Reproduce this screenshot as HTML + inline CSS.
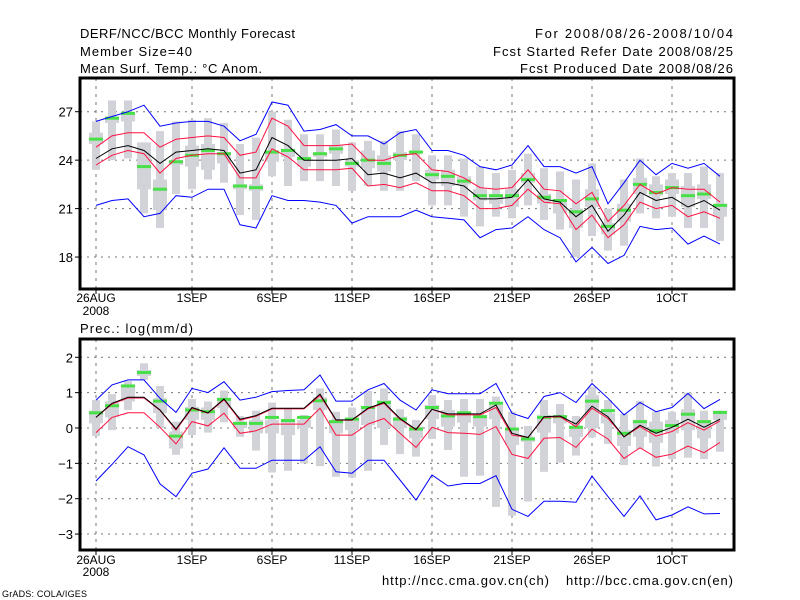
<!DOCTYPE html>
<html><head><meta charset="utf-8"><style>
html,body{margin:0;padding:0;background:#fff;}
svg{display:block;font-family:"Liberation Sans",sans-serif;}
</style></head><body>
<svg id="chart" width="800" height="600" viewBox="0 0 800 600" xmlns="http://www.w3.org/2000/svg">
<rect x="0" y="0" width="800" height="600" fill="#fff"/>
<g font-size="13" fill="#000">
<text x="80" y="38" textLength="215">DERF/NCC/BCC Monthly Forecast</text>
<text x="80" y="56" textLength="112">Member Size=40</text>
<text x="80" y="73" textLength="182">Mean Surf. Temp.: °C Anom.</text>
<text x="733" y="38" text-anchor="end" textLength="198">For 2008/08/26-2008/10/04</text>
<text x="733" y="56" text-anchor="end" textLength="240">Fcst Started Refer Date 2008/08/25</text>
<text x="733" y="73" text-anchor="end" textLength="213">Fcst Produced Date 2008/08/26</text>
<text x="80" y="333" textLength="113">Prec.: log(mm/d)</text>
<text x="382" y="585" textLength="167">http://ncc.cma.gov.cn(ch)</text>
<text x="566" y="585" textLength="167">http://bcc.cma.gov.cn(en)</text>
<text x="2" y="597" font-size="9" textLength="85">GrADS: COLA/IGES</text>
</g>
<g id="plots"></g>
</svg>
<script>
// ---- data ----
const tickDays = [0,6,11,16,21,26,31,36];
const tickLabels = ["26AUG","1SEP","6SEP","11SEP","16SEP","21SEP","26SEP","1OCT"];
const tempTicks = [18,21,24,27];
const precTicks = [-3,-2,-1,0,1,2];

const tBlueHi = [26.4,26.7,27.0,27.4,26.1,26.3,26.4,26.4,26.1,25.2,25.6,27.6,27.4,25.8,25.9,26.2,25.5,25.5,25.0,25.7,25.9,24.6,24.6,24.3,23.6,23.4,23.7,24.9,23.6,23.6,23.2,23.6,21.3,22.6,24.0,23.1,23.8,23.5,23.8,23.0];
const tRedHi = [24.8,25.5,25.7,25.7,24.8,25.3,25.4,25.5,25.4,24.3,24.5,26.6,26.1,24.9,24.9,24.9,25.0,24.0,24.0,24.3,24.4,23.4,23.3,22.9,22.3,22.2,22.3,23.4,22.2,22.1,21.3,22.0,20.2,21.2,22.5,21.9,22.3,22.2,22.2,21.4];
const tMean = [24.1,24.7,24.9,24.6,23.8,24.5,24.6,24.7,24.6,23.2,23.4,25.4,24.9,24.0,24.0,24.0,24.1,23.1,23.2,22.9,23.2,22.6,22.6,22.4,21.6,21.6,21.7,22.8,21.6,21.4,20.5,21.2,19.6,20.6,22.0,21.5,21.7,21.1,21.5,20.9];
const tRedLo = [23.7,24.3,24.6,24.4,23.2,24.1,24.3,24.4,24.4,22.9,22.9,24.7,24.2,23.4,23.4,23.4,23.5,22.4,22.5,22.3,22.6,22.1,22.1,21.8,21.0,21.0,21.2,22.2,21.4,21.3,19.7,20.6,19.2,20.0,21.4,21.0,21.2,20.5,20.8,20.4];
const tBlueLo = [21.2,21.5,21.6,20.5,20.7,21.8,21.7,22.2,22.2,20.0,19.8,21.8,21.5,21.5,21.4,21.2,20.1,20.5,20.5,20.5,20.9,20.5,20.4,20.3,19.2,19.7,19.8,20.5,19.7,19.2,17.7,18.6,17.6,18.1,19.9,19.7,19.8,18.8,19.3,18.8];
const tGreen = [25.3,26.6,26.9,23.6,22.2,23.9,24.3,24.6,24.4,22.4,22.3,24.5,24.6,24.1,24.4,24.7,23.8,24.0,23.8,24.3,24.5,23.1,23.0,22.7,21.8,21.8,21.8,22.8,21.7,21.5,20.8,21.6,19.9,20.9,22.5,22.0,22.3,21.8,21.9,21.2];
const tBoxMax = [26.4,27.7,27.7,25.1,25.8,26.4,26.5,26.6,26.3,25.0,25.4,27.0,26.5,25.6,25.6,25.9,25.1,25.2,25.2,25.8,25.6,24.3,24.3,24.1,23.6,23.2,23.4,24.4,23.5,23.3,22.8,23.8,21.0,22.8,24.1,23.0,23.2,23.2,23.6,23.2];
const tBoxMin = [23.4,24.0,24.1,20.7,19.8,21.9,22.2,22.8,22.6,20.6,20.3,23.0,22.4,22.7,22.7,22.4,22.1,22.4,22.1,22.1,22.7,21.2,21.2,20.5,19.9,20.5,20.4,21.2,20.3,19.7,18.0,19.3,18.4,18.7,20.7,20.4,20.5,19.8,19.8,19.0];
const tBoxQ3 = [25.7,26.7,26.9,25.1,22.8,24.0,24.9,25.0,24.5,22.5,22.5,24.6,24.7,24.2,24.4,24.9,24.0,24.6,24.3,24.5,24.6,23.4,23.4,23.0,22.2,21.9,22.2,23.2,21.9,21.5,21.0,22.2,20.1,21.3,22.9,22.5,22.8,22.4,22.5,21.3];
const tBoxQ1 = [25.0,26.3,26.4,22.2,20.9,23.7,23.6,23.4,23.8,22.2,22.1,23.9,24.2,23.6,24.2,24.4,23.6,23.5,23.3,24.0,24.4,22.8,22.4,22.5,21.5,21.3,21.1,22.6,21.3,20.7,19.8,21.1,19.4,20.2,21.9,21.8,21.9,21.1,21.6,20.5];

const pBlueHi = [0.79,1.22,1.36,1.36,0.84,0.44,1.12,1.0,1.31,0.79,0.87,1.03,1.06,1.08,1.5,0.76,0.76,1.08,1.26,0.79,0.51,1.08,0.97,0.97,0.97,1.26,0.42,0.27,0.89,1.0,0.72,1.26,0.84,0.37,0.72,0.46,0.58,0.98,0.55,0.81];
const pRedHi = [0.3,0.68,0.85,0.85,0.5,-0.06,0.56,0.42,0.8,0.22,0.33,0.54,0.54,0.54,0.92,0.22,0.22,0.54,0.7,0.25,-0.06,0.53,0.37,0.37,0.37,0.58,-0.2,-0.27,0.3,0.32,0.04,0.56,0.27,-0.25,0.04,-0.23,-0.1,0.15,-0.06,0.2];
const pMean = [0.3,0.7,0.87,0.87,0.51,-0.03,0.58,0.43,0.82,0.25,0.35,0.56,0.56,0.56,0.96,0.23,0.23,0.56,0.72,0.27,-0.04,0.53,0.4,0.4,0.4,0.65,-0.15,-0.27,0.32,0.34,0.11,0.62,0.32,-0.25,0.08,-0.15,0.02,0.25,0.02,0.25];
const pRedLo = [-0.13,0.3,0.43,0.43,0.02,-0.45,0.18,0.06,0.42,-0.15,-0.08,0.11,0.11,0.11,0.56,-0.2,-0.2,0.11,0.27,-0.15,-0.55,0.02,-0.13,-0.15,-0.18,0.04,-0.75,-0.86,-0.29,-0.27,-0.55,-0.03,-0.31,-0.86,-0.56,-0.83,-0.74,-0.51,-0.7,-0.41];
const pBlueLo = [-1.5,-1.03,-0.53,-0.76,-1.58,-1.94,-1.28,-1.16,-0.56,-1.14,-1.14,-0.91,-0.91,-0.91,-0.53,-1.24,-1.28,-0.91,-0.91,-1.47,-2.04,-1.33,-1.64,-1.57,-1.57,-1.35,-2.3,-2.5,-2.07,-2.07,-2.1,-1.36,-1.94,-2.5,-1.92,-2.6,-2.46,-2.23,-2.43,-2.42];
const pGreen = [0.43,0.63,1.19,1.57,0.76,-0.23,0.51,0.46,0.81,0.13,0.13,0.3,0.21,0.3,0.77,0.18,0.25,0.58,0.72,0.25,-0.03,0.58,0.34,0.43,0.32,0.7,-0.03,-0.31,0.3,0.32,0.02,0.76,0.49,-0.15,0.18,-0.08,0.07,0.39,0.18,0.44];
const pBoxMax = [0.79,0.96,1.33,1.83,1.19,0.18,0.82,0.75,1.06,0.34,0.49,0.72,0.56,0.37,1.12,0.46,0.58,1.05,1.12,0.53,0.23,0.93,0.79,0.82,0.82,0.89,0.46,0.06,0.79,0.68,0.34,1.17,0.79,0.4,0.77,0.46,0.46,1.0,0.49,0.49];
const pBoxMin = [-0.23,-0.06,0.51,1.36,0,-0.76,-0.2,-0.13,0.16,-0.25,-0.64,-1.26,-1.21,-1.0,-1.08,-1.38,-1.4,-1.21,-0.48,-0.74,-0.81,-0.31,-0.62,-1.38,-1.35,-2.23,-2.48,-2.08,-1.24,-0.98,-0.78,-0.27,-0.45,-1.05,-0.59,-1.09,-0.88,-0.84,-0.88,-0.67];
const pBoxQ3 = [0.49,0.75,1.22,1.64,0.84,-0.1,0.6,0.58,0.84,0.18,0.23,0.23,0.23,0.23,0.87,0.23,0.23,0.6,0.79,0.32,0.04,0.65,0.51,0.37,0.37,0.65,-0.06,-0.25,0.37,0.37,0.04,0.93,0.42,-0.06,0.23,0.18,0.23,0.53,0.23,0.49];
const pBoxQ1 = [0.13,0.3,0.75,1.47,0.42,-0.58,0.23,0.23,0.56,0,-0.15,-0.15,-0.2,0,0.51,-0.15,-0.06,0.08,0,0,-0.29,0.25,0.04,0.15,0.04,0.25,-0.48,-0.39,-0.13,0.13,-0.25,0,0.13,-0.51,-0.25,-0.42,-0.15,-0.06,-0.29,0.23];

// ---- drawing ----
const NS = "http://www.w3.org/2000/svg";
const root = document.getElementById('plots');
function el(tag, attrs, parent){ const e=document.createElementNS(NS,tag); for(const k in attrs) e.setAttribute(k,attrs[k]); (parent||root).appendChild(e); return e; }
const xDay = d => 96 + 16*d;
const X0 = 80, X1 = 734;

function panel(cfg){
  const {top,bottom,yv,ticks,bMax,bMin,q3,q1,green,blueHi,redHi,mean,redLo,blueLo,name,labY,yearY} = cfg;
  const g = el('g',{});
  
  
  ticks.forEach(t=>{
    const y=yv(t);
    const gl=el('line',{x1:X0,x2:X1,y1:y,y2:y,stroke:'#777','stroke-width':1,'stroke-dasharray':'2,5'},g);
    
    
    const tk=el('line',{x1:X0-5,x2:X0,y1:y,y2:y,stroke:'#000','stroke-width':1},g);
    
    
    const tl=el('text',{x:X0-7,y:y+5,'text-anchor':'end','font-size':13},g);
    tl.textContent = t<0 ? '\u2212'+Math.abs(t) : String(t);
    
    
  });
  tickDays.forEach((d,i)=>{
    const x=xDay(d);
    const gl=el('line',{x1:x,x2:x,y1:top,y2:bottom,stroke:'#777','stroke-width':1,'stroke-dasharray':'3,5'},g);
    
    
    const tk=el('line',{x1:x,x2:x,y1:bottom,y2:bottom+5,stroke:'#000','stroke-width':1},g);
    
    
    const tl=el('text',{x:x,y:labY,'text-anchor':'middle','font-size':12},g);
    tl.textContent=tickLabels[i];
    
    
  });
  const yr=el('text',{x:xDay(0),y:yearY,'text-anchor':'middle','font-size':12},g);
  yr.textContent='2008';
  
  
  bMax.forEach((v,i)=>{
    const x=xDay(i);
    const o=el('rect',{x:x-4,y:yv(v),width:8,height:Math.max(1,yv(bMin[i])-yv(v)),fill:'#d2d3d8'},g);
    
    
    const b=el('rect',{x:x-7,y:yv(q3[i]),width:14,height:Math.max(1,yv(q1[i])-yv(q3[i])),fill:'#d2d3d8'},g);
    
    
  });
  green.forEach((v,i)=>{
    const r=el('rect',{x:xDay(i)-7,y:yv(v)-1.5,width:14,height:3,fill:'#48e048'},g);
    
    
  });
  const series=[[blueHi,'#0000ff','blue-upper-line'],[blueLo,'#0000ff','blue-lower-line'],[redHi,'#ff1040','red-upper-line'],[redLo,'#ff1040','red-lower-line'],[mean,'#000','ensemble-mean-line']];
  series.forEach(([arr,c,n])=>{
    const p=el('polyline',{points:arr.map((v,i)=>xDay(i)+','+yv(v).toFixed(1)).join(' '),fill:'none',stroke:c,'stroke-width':1},g);
    
    
  });
  const f=el('rect',{x:X0,y:top,width:X1-X0,height:bottom-top,fill:'none',stroke:'#000','stroke-width':3},g);
  
  
}

panel({top:78,bottom:289,yv:v=>111.7+(27-v)*16.15,ticks:tempTicks,bMax:tBoxMax,bMin:tBoxMin,q3:tBoxQ3,q1:tBoxQ1,green:tGreen,blueHi:tBlueHi,redHi:tRedHi,mean:tMean,redLo:tRedLo,blueLo:tBlueLo,name:'temperature-panel',labY:302,yearY:315});
panel({top:339,bottom:550,yv:v=>428-v*35.35,ticks:precTicks,bMax:pBoxMax,bMin:pBoxMin,q3:pBoxQ3,q1:pBoxQ1,green:pGreen,blueHi:pBlueHi,redHi:pRedHi,mean:pMean,redLo:pRedLo,blueLo:pBlueLo,name:'precipitation-panel',labY:564,yearY:576});
</script>
</body></html>
